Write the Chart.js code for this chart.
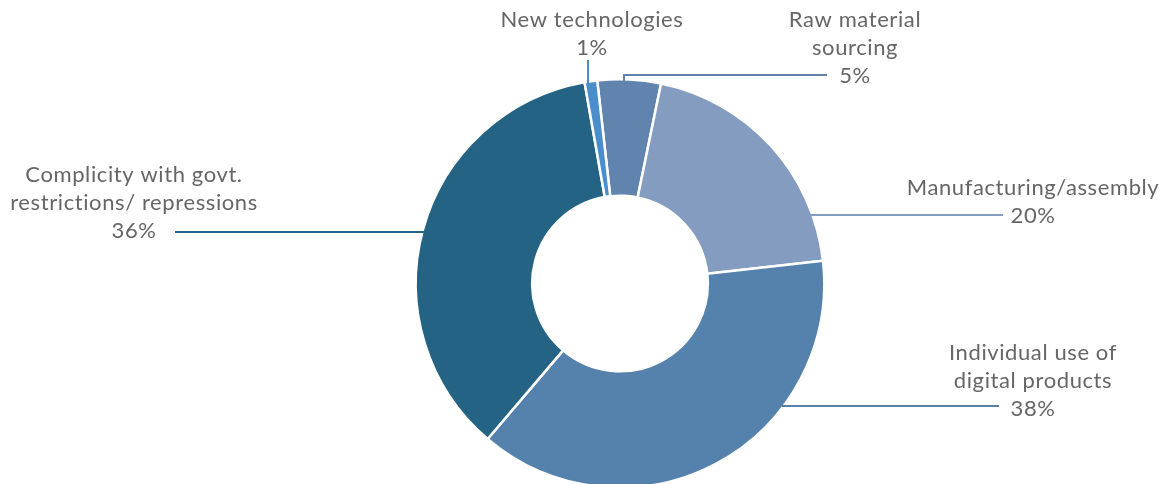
<!DOCTYPE html>
<html>
<head>
<meta charset="utf-8">
<script src="https://cdn.jsdelivr.net/npm/chart.js@4.4.0/dist/chart.umd.min.js"></script>
<style>
  html, body { margin: 0; padding: 0; background: #fff; overflow: hidden; }
  #wrap { width: 1167px; height: 489px; position: relative; }
</style>
</head>
<body>
<div id="wrap"><canvas id="myChart"></canvas></div>
<script>
var categories = ['Raw material sourcing', 'Manufacturing/assembly', 'Individual use of digital products', 'Complicity with govt. restrictions/ repressions', 'New technologies'];
var shares = [5, 20, 38, 36, 1];
var colors = ['#6084ae', '#839cbf', '#5582ad', '#256384', '#4a8fcc'];

// how each label is broken into lines
var labelLines = [
  ['Raw material', 'sourcing'],
  ['Manufacturing/assembly'],
  ['Individual use of', 'digital products'],
  ['Complicity with govt.', 'restrictions/ repressions'],
  ['New technologies']
];

// where the text blocks sit and how the leader lines run to the ring
var labelPlace = [
  {tx: 855, ty: 27, kind: 'elbow', lineY: 75, lineX: 624, endX: 827},
  {tx: 1033, ty: 195, kind: 'flat', lineY: 215, endX: 1003},
  {tx: 1033, ty: 360, kind: 'flat', lineY: 406, endX: 999},
  {tx: 134, ty: 182, kind: 'flat', lineY: 232, endX: 175},
  {tx: 592, ty: 27, kind: 'up', lineX: 588, lineY: 60}
];

var lineGap = 28;

var calloutPlugin = {
  id: 'callouts',
  afterDraw: function(chart) {
    var ctx = chart.ctx;
    var arc = chart.getDatasetMeta(0).data[0];
    var cx = arc.x, cy = arc.y, r = arc.outerRadius;
    ctx.save();
    ctx.font = '22px Lato';
    ctx.letterSpacing = '0.6px';
    ctx.textAlign = 'center';
    ctx.textBaseline = 'alphabetic';
    for (var i = 0; i < shares.length; i++) {
      var p = labelPlace[i];
      var lines = labelLines[i].concat([shares[i] + '%']);
      ctx.fillStyle = '#666666';
      for (var j = 0; j < lines.length; j++) {
        ctx.fillText(lines[j], p.tx, p.ty + j * lineGap);
      }
      ctx.strokeStyle = colors[i];
      ctx.lineWidth = 2;
      ctx.beginPath();
      if (p.kind === 'flat') {
        var dy = p.lineY - cy;
        var dx = Math.sqrt(r * r - dy * dy);
        var sx = p.tx > cx ? cx + dx - 2 : cx - dx + 2;
        ctx.moveTo(sx, p.lineY);
        ctx.lineTo(p.endX, p.lineY);
      } else if (p.kind === 'elbow') {
        var ex = p.lineX - cx;
        var sy = cy - Math.sqrt(r * r - ex * ex) + 2;
        ctx.moveTo(p.lineX, sy);
        ctx.lineTo(p.lineX, p.lineY);
        ctx.lineTo(p.endX, p.lineY);
      } else {
        var ux = p.lineX - cx;
        var uy = cy - Math.sqrt(r * r - ux * ux) + 4;
        ctx.moveTo(p.lineX, uy);
        ctx.lineTo(p.lineX, p.lineY);
      }
      ctx.stroke();
    }
    ctx.restore();
  }
};

var ctx = document.getElementById('myChart').getContext('2d');
var chart = new Chart(ctx, {
  type: 'doughnut',
  data: {
    labels: categories,
    datasets: [{
      data: shares,
      backgroundColor: colors,
      borderColor: '#ffffff',
      borderWidth: 2.5
    }]
  },
  options: {
    responsive: true,
    maintainAspectRatio: false,
    animation: false,
    rotation: -6.4,
    cutout: '43%',
    layout: { padding: { top: 78, bottom: 0, left: 73, right: 0 } },
    plugins: {
      legend: { display: false },
      tooltip: { enabled: false }
    }
  },
  plugins: [calloutPlugin]
});
</script>
</body>
</html>
